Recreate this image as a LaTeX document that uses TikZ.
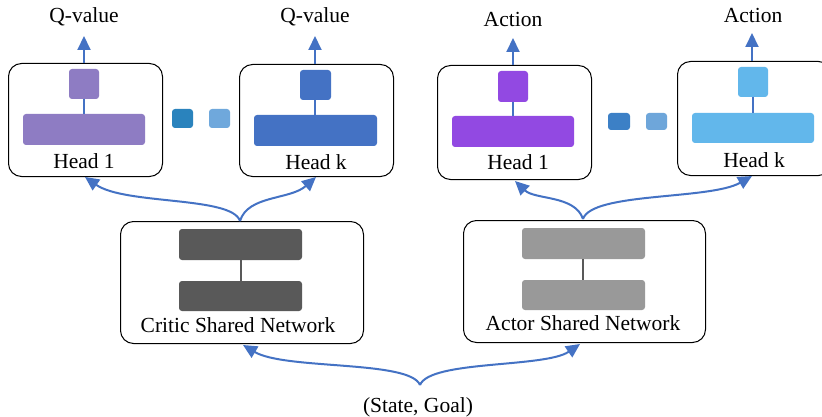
\documentclass[tikz,border=0pt]{standalone}
\usepackage{fontspec}
\setmainfont{Liberation Serif}
\usetikzlibrary{arrows.meta}
\definecolor{arrowblue}{HTML}{4472C4}
\definecolor{cpurple}{HTML}{8E7CC3}
\definecolor{cblue}{HTML}{4472C4}
\definecolor{apurple}{HTML}{9249E2}
\definecolor{alblue}{HTML}{62B7EB}
\definecolor{dotdark}{HTML}{2A83BD}
\definecolor{dotlight}{HTML}{6FA8DC}
\definecolor{dotdarkb}{HTML}{3C80C6}
\definecolor{dotlightb}{HTML}{6EA6DA}
\definecolor{darkbar}{HTML}{595959}
\definecolor{lightbar}{HTML}{999999}
\tikzset{
  x=1pt, y=-1pt,
  frame/.style={draw=black, line width=1pt, rounded corners=13pt},
  blk/.style={rounded corners=3pt},
  lbl/.style={font=\fontsize{21.5}{24}\selectfont, inner sep=0pt},
  flow/.style={draw=arrowblue, line width=2pt, -{Triangle[length=14pt,width=13pt]}},
  inner/.style={line width=1.5pt}
}
\begin{document}
\begin{tikzpicture}
\useasboundingbox (0,0) rectangle (822,417);
\clip (0,0) rectangle (822,417);
\fill[white] (0,0) rectangle (822,417);

% ---------- Critic heads ----------
\node[frame, minimum width=154pt, minimum height=113pt, anchor=north west] (ch1) at (8,63) {};
\fill[cpurple, blk] (69,69) rectangle (99,99);
\fill[cpurple, blk] (23,114) rectangle (145,145);
\coordinate (ch1a) at (84,99);
\coordinate (ch1b) at (84,114);
\draw[arrowblue, inner] (ch1a) -- (ch1b);
\node[lbl] (ch1t) at (84,161) {Head 1};
\coordinate (ch1top) at (84,63);
\coordinate (ch1bot) at (85,177);
\node[lbl] (qv1) at (84,17) {Q-value};
\coordinate (qv1tip) at (84,36);
\draw[flow] (ch1top) -- (qv1tip);

\node[frame, minimum width=154pt, minimum height=112pt, anchor=north west] (chk) at (239,64) {};
\fill[cblue, blk] (300,70) rectangle (331,100);
\fill[cblue, blk] (254,115) rectangle (377,146);
\coordinate (chka) at (315,100);
\coordinate (chkb) at (315,115);
\draw[arrowblue, inner] (chka) -- (chkb);
\node[lbl] (chkt) at (316,162) {Head k};
\coordinate (chktop) at (315,64);
\coordinate (chkbot) at (316,177);
\node[lbl] (qvk) at (315,17) {Q-value};
\coordinate (qvktip) at (315,36);
\draw[flow] (chktop) -- (qvktip);

\fill[dotdark, blk] (172,109) rectangle (193,128);
\fill[dotlight, blk] (209,109) rectangle (230,128);

% ---------- Actor heads ----------
\node[frame, minimum width=154pt, minimum height=114pt, anchor=north west] (ah1) at (437,65) {};
\fill[apurple, blk] (498,71) rectangle (528,102);
\fill[apurple, blk] (452,116) rectangle (574,147);
\coordinate (ah1a) at (513,102);
\coordinate (ah1b) at (513,116);
\draw[arrowblue, inner] (ah1a) -- (ah1b);
\node[lbl] (ah1t) at (518,162) {Head 1};
\coordinate (ah1top) at (513,65);
\coordinate (ah1bot) at (515,181);
\node[lbl] (ac1) at (513,19) {Action};
\coordinate (ac1tip) at (513,38);
\draw[flow] (ah1top) -- (ac1tip);

\node[frame, minimum width=154pt, minimum height=114pt, anchor=north west] (ahk) at (677,61) {};
\fill[alblue, blk] (738,67) rectangle (768,97);
\fill[alblue, blk] (692,113) rectangle (814,143);
\coordinate (ahka) at (753,97);
\coordinate (ahkb) at (753,113);
\draw[arrowblue, inner] (ahka) -- (ahkb);
\node[lbl] (ahkt) at (754,160) {Head k};
\coordinate (ahktop) at (752,61);
\coordinate (ahkbot) at (752,176);
\node[lbl] (ack) at (753,15) {Action};
\coordinate (acktip) at (752,33);
\draw[flow] (ahktop) -- (acktip);

\fill[dotdarkb, blk] (608,113) rectangle (630,130);
\fill[dotlightb, blk] (646,113) rectangle (667,130);

% ---------- Shared networks ----------
\node[frame, minimum width=243pt, minimum height=122pt, anchor=north west] (cs) at (120,221) {};
\fill[darkbar, blk] (179,229) rectangle (302,260);
\fill[darkbar, blk] (179,281) rectangle (302,311);
\coordinate (csa) at (241,260);
\coordinate (csb) at (241,281);
\draw[darkbar, inner] (csa) -- (csb);
\node[lbl] (cst) at (238,325) {Critic Shared Network};
\coordinate (cstop) at (240,221);
\coordinate (csbot) at (243,345);

\node[frame, minimum width=242pt, minimum height=122pt, anchor=north west] (as) at (463,220) {};
\fill[lightbar, blk] (522,228) rectangle (645,259);
\fill[lightbar, blk] (522,280) rectangle (645,310);
\coordinate (asa) at (583,259);
\coordinate (asb) at (583,280);
\draw[darkbar, inner] (asa) -- (asb);
\node[lbl] (ast) at (583,323) {Actor Shared Network};
\coordinate (astop) at (583,219);
\coordinate (asbot) at (580,344);

% ---------- Input ----------
\node[lbl] (sg) at (418,407) {(State, Goal)};
\coordinate (sgtop) at (420,385);

% ---------- Curved connectors ----------
\draw[flow] (sgtop) .. controls (410,360) and (285,370) .. (csbot);
\draw[flow] (sgtop) .. controls (430,360) and (545,368) .. (asbot);
\draw[flow] (cstop) .. controls (232,196) and (125,205) .. (ch1bot);
\draw[flow] (cstop) .. controls (248,195) and (290,200) .. (chkbot);
\draw[flow] (astop) .. controls (575,195) and (535,200) .. (ah1bot);
\draw[flow] (astop) .. controls (592,192) and (710,200) .. (ahkbot);
\end{tikzpicture}
\end{document}
